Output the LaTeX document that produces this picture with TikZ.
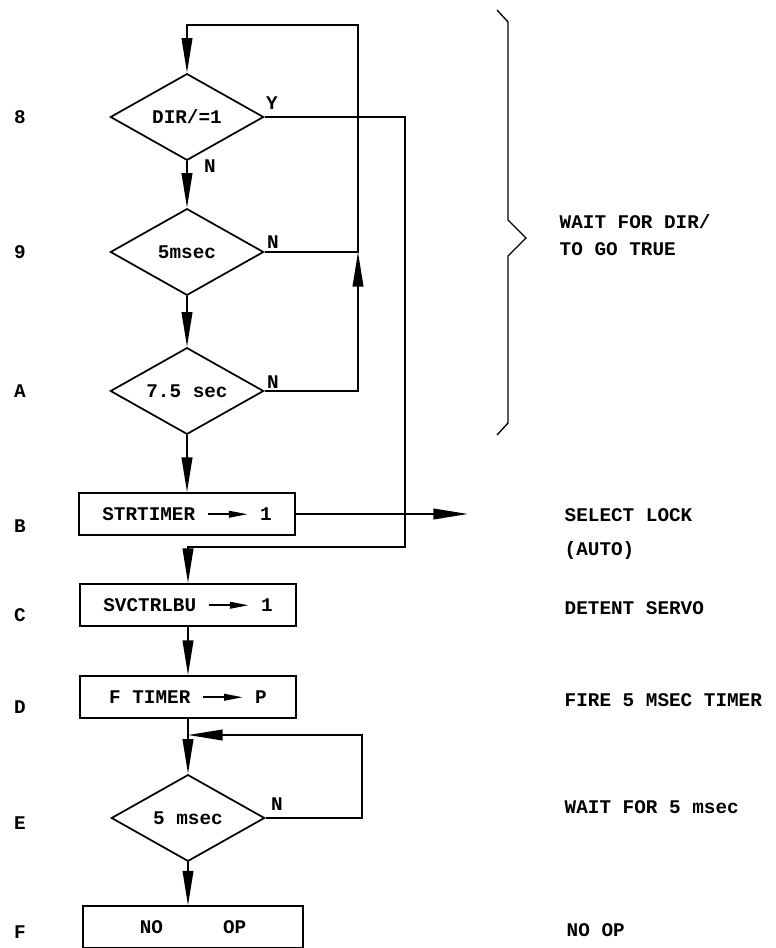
\documentclass[tikz,border=0pt]{standalone}
\usepackage{fontspec}
\setmonofont{Liberation Mono}
\usetikzlibrary{arrows.meta, shapes.geometric, positioning}

\newcommand{\asgn}{\tikz[baseline=-0.6ex]\draw[line width=1.2pt,-{Triangle[length=14pt,width=5pt]}] (0pt,0pt) -- (30pt,0pt);}

\tikzset{
  txt/.style={font=\ttfamily\bfseries\fontsize{14.5}{20}\selectfont},
  dec/.style={diamond, draw, txt, line width=1.3pt, aspect=1.76, inner sep=0pt,
    minimum width=115pt, minimum height=65pt},
  proc/.style={rectangle, draw, txt, line width=1.3pt, minimum width=162pt,
    minimum height=31.5pt, inner sep=0pt},
  tag/.style={txt},
  note/.style={txt, anchor=west, align=left},
  flow/.style={line width=1.3pt, -{Triangle[length=26pt,width=8pt]}},
  wire/.style={line width=1.3pt}
}

\begin{document}
\begin{tikzpicture}[x=0.75pt, y=-0.75pt]
  \useasboundingbox (0,0) rectangle (775,948);

  % left step tags
  \foreach \t/\y in {8/117, 9/252, A/391, B/526, C/615, D/707, E/823, F/932}
    \node[tag] (t\t) at (20,\y) {\t};

  % flow chart
  \node[dec] (d8) at (187,117) {DIR/=1};
  \node[dec] (d9) at (187,252) {5msec};
  \node[dec] (dA) at (187,391) {7.5 sec};
  \node[proc] (bB) at (187,514) {STRTIMER \asgn{} 1};
  \node[proc] (bC) at (188,605) {SVCTRLBU \asgn{} 1};
  \node[proc] (bD) at (188,697) {F TIMER \asgn{} P};
  \node[dec] (dE) at (188,818) {5 msec};
  \node[proc, minimum width=165pt, minimum height=31pt] (bF) at (193,927)
    {NO\hspace{45pt}OP};

  \coordinate (top) at (358,25);
  \coordinate (j9) at (358,252);
  \coordinate (yr) at (405,547);
  \coordinate (lock) at (468,514);
  \coordinate (jE) at (362,735);

  \draw[flow] (d8.south) -- (d9.north);
  \draw[flow] (d9.south) -- (dA.north);
  \draw[flow] (dA.south) -- (bB.north);
  \draw[flow] (bC.south) -- (bD.north);
  \draw[flow] (bD.south) -- (dE.north);
  \draw[flow] (dE.south) -- (dE.south |- bF.north);
  \draw[flow] (d9.east) -- (j9) -- (top) -| (d8.north);
  \draw[flow] (dA.east) -| (j9);
  \draw[flow] (d8.east) -| (yr) -| (bC.north);
  \draw[flow] (bB.east) -- (lock);
  \draw[flow] (dE.east) -| (jE) -- (jE -| bD.south);

  % branch labels
  \node[tag] (lY) at (272,103) {Y};
  \node[tag] (lN8) at (210,166) {N};
  \node[tag] (lN9) at (273,242) {N};
  \node[tag] (lNA) at (273,382) {N};
  \node[tag] (lNE) at (277,804) {N};

  % brace
  \draw[line width=1pt] (497,10) -- (508,22) -- (508,220) -- (526,238)
    -- (508,256) -- (508,423) -- (497,435);

  % notes
  \node[note] (n9) at (555,235) {WAIT FOR DIR/\\TO GO TRUE};
  \node[note] (nB) at (560,534) {SELECT LOCK\\[6pt](AUTO)};
  \node[note] (nC) at (560,608) {DETENT SERVO};
  \node[note] (nD) at (560,700) {FIRE 5 MSEC TIMER};
  \node[note] (nE) at (560,807) {WAIT FOR 5 msec};
  \node[note] (nF) at (562,930) {NO OP};
\end{tikzpicture}
\end{document}
